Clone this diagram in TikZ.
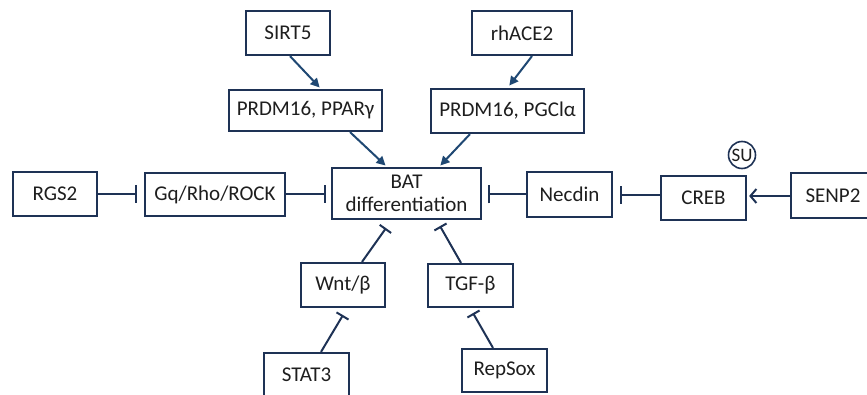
\documentclass[tikz,border=0pt]{standalone}
\usepackage{fontspec}
\setmainfont{Carlito}
\usetikzlibrary{arrows.meta}
\definecolor{navy}{RGB}{30,50,85}
\definecolor{arrblue}{RGB}{31,72,115}
\definecolor{txt}{RGB}{30,30,30}
\begin{document}
\begin{tikzpicture}[x=1pt,y=-1pt,
  box/.style={draw=navy,line width=2.2pt,inner sep=0pt,font=\fontsize{21}{22}\selectfont,text=txt,align=center},
  act/.style={draw=arrblue,line width=2pt,-{Triangle[length=9pt,width=9pt]}},
  inh/.style={draw=navy,line width=2pt,-{Bar[width=18pt]}},
  inhd/.style={draw=navy,line width=2pt,-{Bar[width=14pt]}},
  bar/.style={draw=navy,line width=2pt,-{Straight Barb[length=6pt,width=14pt]}}]
\useasboundingbox (0,0) rectangle (867,395);
\begin{scope}
\clip (0,0) rectangle (867,395);
\node[box,minimum width=84pt,minimum height=44pt] (SIRT5) at (288,33) {SIRT5};
\node[box,minimum width=153pt,minimum height=41pt] (PPAR) at (305.5,110.5) {PRDM16, PPARγ};
\node[box,minimum width=100pt,minimum height=44pt] (ACE) at (522,33) {rhACE2};
\node[box,minimum width=153pt,minimum height=44pt] (PGC) at (507.5,111) {PRDM16, PGClα};
\node[box,minimum width=149pt,minimum height=51pt,font=\fontsize{21}{23}\selectfont] (BAT) at (406.5,193.5) {BAT\\differentiation};
\node[box,minimum width=84pt,minimum height=44pt] (RGS2) at (55,194) {RGS2};
\node[box,minimum width=140pt,minimum height=43pt] (GQ) at (215,194.5) {Gq/Rho/ROCK};
\node[box,minimum width=85pt,minimum height=45pt] (NEC) at (569.5,194.5) {Necdin};
\node[box,minimum width=85pt,minimum height=44pt] (CREB) at (703.5,198) {CREB};
\node[box,minimum width=84pt,minimum height=45pt] (SENP) at (833,195.5) {SENP2};
\node[box,minimum width=84pt,minimum height=44pt] (WNT) at (343,285) {Wnt/β};
\node[box,minimum width=85pt,minimum height=43pt] (TGF) at (470.5,285.5) {TGF-β};
\node[box,minimum width=85pt,minimum height=44pt] (STAT) at (306.5,375) {STAT3};
\node[box,minimum width=85pt,minimum height=43pt] (REP) at (504.5,370.5) {RepSox};
\node[draw=navy,line width=1.6pt,circle,minimum size=27pt,inner sep=0pt,text=txt,font=\fontsize{19}{20}\selectfont] (SU) at (742,155) {SU};
\end{scope}
\draw[act,shorten >=2pt] ([xshift=2pt]SIRT5.south) -- ([xshift=15.5pt]PPAR.north);
\draw[act,shorten >=2pt] ([xshift=44.5pt]PPAR.south) -- ([xshift=-19.5pt]BAT.north);
\draw[act,shorten >=3pt] ([xshift=10pt]ACE.south) -- ([xshift=0pt]PGC.north);
\draw[act,shorten >=2pt] ([xshift=-37.5pt]PGC.south) -- ([xshift=32.5pt]BAT.north);
\draw[inh,shorten >=7pt] (RGS2.east) -- (RGS2.east -| GQ.west);
\draw[inh,shorten >=5pt] (GQ.east) -- (GQ.east -| BAT.west);
\draw[inh,shorten >=6pt] (NEC.west) -- (NEC.west -| BAT.east);
\draw[inh,shorten >=7pt] ([yshift=3pt]CREB.west) -- ([yshift=3pt]CREB.west -| NEC.east);
\draw[bar,shorten >=2pt] ([yshift=-0.5pt]SENP.west) -- ([yshift=-0.5pt]SENP.west -| CREB.east);
\draw[inhd] ([xshift=19pt]WNT.north) -- ([xshift=-20.5pt,yshift=-8pt]BAT.south);
\draw[inhd] ([xshift=14.5pt]STAT.north) -- ([xshift=0pt,yshift=-7pt]WNT.south);
\draw[inhd] ([xshift=-9.5pt]TGF.north) -- ([xshift=33.5pt,yshift=-6pt]BAT.south);
\draw[inhd] ([xshift=-11.5pt]REP.north) -- ([xshift=2.5pt,yshift=-5pt]TGF.south);
\end{tikzpicture}
\end{document}
